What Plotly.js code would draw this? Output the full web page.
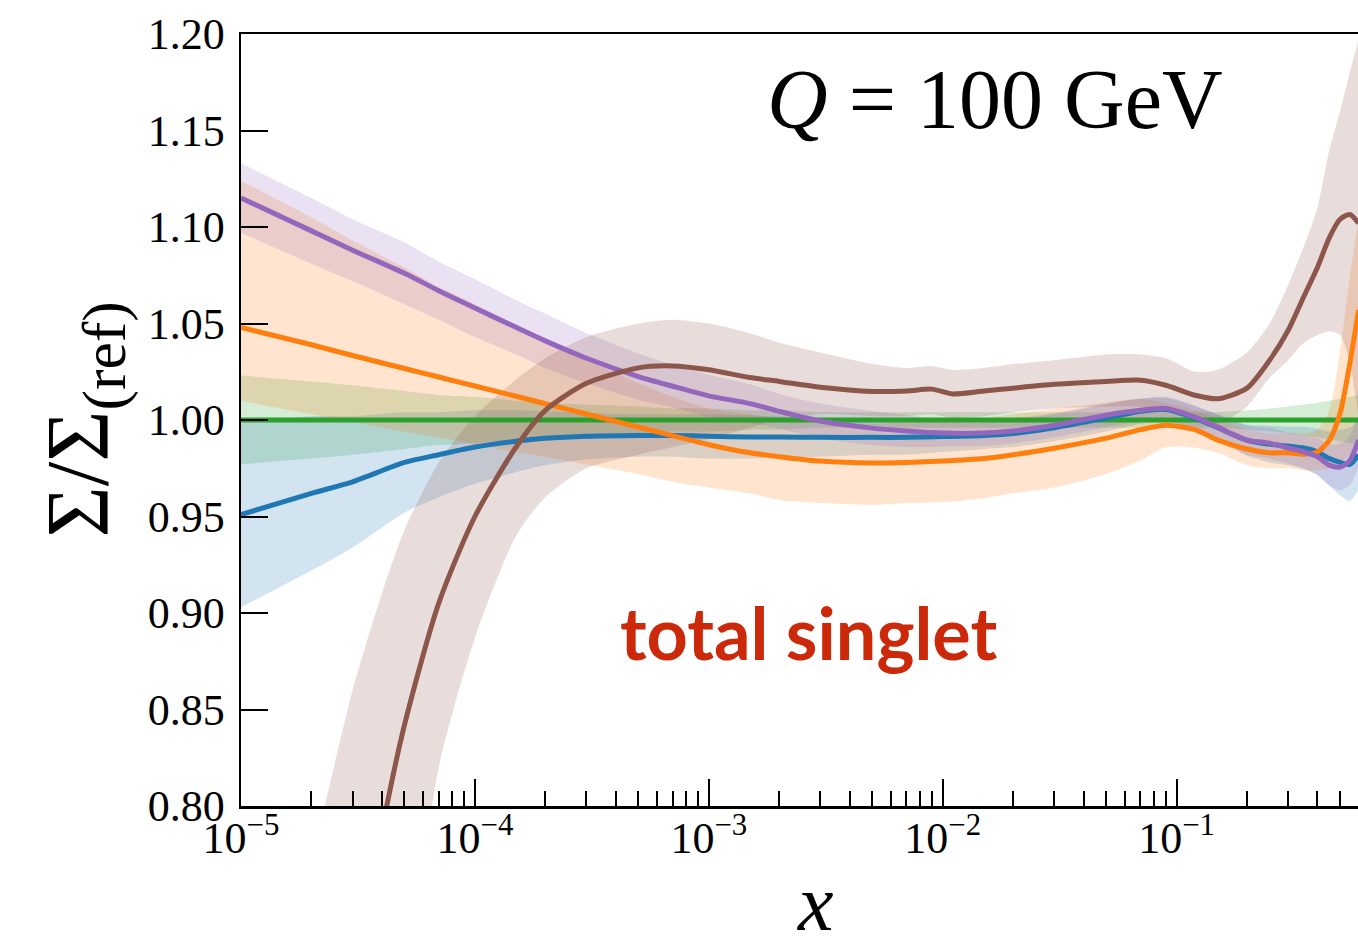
<!DOCTYPE html>
<html>
<head>
<meta charset="utf-8">
<script src="https://cdn.plot.ly/plotly-3.0.1.min.js"></script>
<style>
  html, body { margin: 0; padding: 0; background: #fff; overflow: hidden; }
  #chart { width: 1358px; height: 948px; }
</style>
</head>
<body>
<div id="chart"></div>
<script>
// Momentum fraction grid shared by most sets
const xGrid = [1e-5, 2e-5, 3e-5, 5e-5, 7e-5, 1e-4, 1.5e-4, 2e-4, 3e-4, 5e-4, 7e-4,
  1e-3, 1.5e-3, 2e-3, 3e-3, 5e-3, 7e-3, 1e-2, 1.5e-2, 2e-2, 3e-2, 5e-2, 7e-2,
  0.09, 0.12, 0.15, 0.2, 0.25, 0.3, 0.35, 0.4, 0.45, 0.5, 0.55, 0.6];

// Reference set (green): central ratio and band
const greenMid = [1, 1, 1, 1, 1, 1, 1, 1, 1, 1, 1, 1, 1, 1, 1, 1, 1, 1, 1, 1, 1, 1, 1,
  1, 1, 1, 1, 1, 1, 1, 1, 1, 1, 1, 1];
const greenLo = [0.977, 0.980, 0.982, 0.985, 0.987, 0.988, 0.990, 0.991, 0.992, 0.993, 0.994,
  0.994, 0.995, 0.995, 0.996, 0.996, 0.996, 0.996, 0.996, 0.996, 0.996, 0.996, 0.996,
  0.996, 0.996, 0.996, 0.995, 0.994, 0.993, 0.992, 0.991, 0.990, 0.989, 0.988, 0.987];
const greenHi = [1.023, 1.020, 1.018, 1.015, 1.013, 1.012, 1.010, 1.009, 1.008, 1.007, 1.006,
  1.006, 1.005, 1.005, 1.004, 1.004, 1.004, 1.004, 1.004, 1.004, 1.004, 1.004, 1.004,
  1.004, 1.004, 1.004, 1.005, 1.006, 1.007, 1.008, 1.009, 1.010, 1.011, 1.012, 1.013];

// Blue set
const blueMid = [0.951, 0.962, 0.968, 0.978, 0.982, 0.986, 0.989, 0.9905, 0.9916, 0.992, 0.992,
  0.9916, 0.9912, 0.9912, 0.991, 0.991, 0.991, 0.9914, 0.992, 0.993, 0.996, 1.001, 1.0045,
  1.0055, 1.001, 0.996, 0.9895, 0.9875, 0.9865, 0.9855, 0.9835, 0.980, 0.978, 0.977, 0.982];
const blueLo = [0.903, 0.922, 0.934, 0.952, 0.960, 0.967, 0.973, 0.9765, 0.9796, 0.981, 0.981,
  0.980, 0.980, 0.9806, 0.981, 0.982, 0.982, 0.9834, 0.985, 0.986, 0.989, 0.994, 0.998,
  0.9995, 0.995, 0.989, 0.9815, 0.978, 0.9765, 0.9745, 0.9715, 0.966, 0.961, 0.958, 0.964];
const blueHi = [0.999, 1.002, 1.002, 1.004, 1.004, 1.005, 1.005, 1.0045, 1.0036, 1.003, 1.003,
  1.003, 1.0024, 1.0018, 1.001, 1.000, 1.000, 0.9994, 0.999, 1.000, 1.003, 1.008, 1.011,
  1.0115, 1.007, 1.003, 0.9975, 0.997, 0.9965, 0.9965, 0.9955, 0.994, 0.995, 0.996, 1.000];

// Orange set
const orangeMid = [1.048, 1.039, 1.0334, 1.0267, 1.0223, 1.0176, 1.0123, 1.0084, 1.0031, 0.9963, 0.9919,
  0.9872, 0.983, 0.981, 0.9787, 0.9777, 0.978, 0.9787, 0.980, 0.982, 0.9854, 0.9906, 0.995,
  0.9973, 0.995, 0.9896, 0.985, 0.983, 0.983, 0.9823, 0.9834, 0.9896, 1.0035, 1.029, 1.057];
const orangeLo = [1.010, 1.003, 0.999, 0.994, 0.991, 0.9875, 0.9834, 0.981, 0.977, 0.972, 0.968,
  0.965, 0.962, 0.9585, 0.957, 0.956, 0.957, 0.9575, 0.9595, 0.962, 0.965, 0.972, 0.979,
  0.986, 0.9855, 0.983, 0.9766, 0.975, 0.975, 0.974, 0.974, 0.975, 0.978, 0.982, 0.985];
const orangeHi = [1.124, 1.105, 1.093, 1.079, 1.069, 1.060, 1.049, 1.041, 1.031, 1.019, 1.012,
  1.006, 1.003, 1.001, 0.999, 0.998, 0.999, 0.9997, 1.001, 1.003, 1.006, 1.009, 1.011,
  1.009, 1.005, 1.001, 0.995, 0.993, 0.993, 0.993, 0.995, 1.005, 1.036, 1.074, 1.105];

// Purple set
const purpleMid = [1.115, 1.098, 1.088, 1.076, 1.067, 1.058, 1.048, 1.041, 1.032, 1.0225, 1.0175,
  1.0125, 1.0085, 1.0045, 0.9995, 0.9958, 0.9943, 0.9932, 0.9932, 0.9943, 0.9973, 1.0025, 1.005,
  1.006, 1.0015, 0.9963, 0.9896, 0.988, 0.9855, 0.9835, 0.981, 0.9766, 0.9756, 0.979, 0.9896];
const purpleLo = [1.097, 1.081, 1.072, 1.060, 1.052, 1.043, 1.034, 1.027, 1.019, 1.0105, 1.0065,
  1.0015, 0.9985, 0.9955, 0.9905, 0.987, 0.986, 0.9862, 0.9865, 0.9878, 0.991, 0.9963, 0.999,
  1.000, 0.9955, 0.990, 0.982, 0.980, 0.9775, 0.975, 0.9715, 0.966, 0.9636, 0.966, 0.9756];
const purpleHi = [1.133, 1.115, 1.104, 1.092, 1.082, 1.073, 1.062, 1.055, 1.045, 1.0345, 1.0285,
  1.0235, 1.0185, 1.0135, 1.0085, 1.0046, 1.0026, 1.0002, 0.9999, 1.0008, 1.0036, 1.0087, 1.011,
  1.012, 1.0075, 1.0026, 0.9972, 0.996, 0.9935, 0.992, 0.9905, 0.9872, 0.9876, 0.992, 1.0036];

// Brown set (own grid, with a small step near x = 0.01)
const xBrown = [2e-5, 3e-5, 4e-5, 5e-5, 7e-5, 1e-4, 1.5e-4, 2e-4, 3e-4, 5e-4, 7e-4,
  1e-3, 1.5e-3, 2e-3, 3e-3, 5e-3, 7e-3, 9e-3, 1.1e-2, 1.5e-2, 2e-2, 3e-2, 5e-2, 7e-2,
  0.09, 0.12, 0.15, 0.2, 0.25, 0.3, 0.35, 0.4, 0.45, 0.5, 0.55, 0.6];
const brownMid = [0.55, 0.70, 0.787, 0.842, 0.905, 0.950, 0.986, 1.005, 1.019, 1.027, 1.028,
  1.026, 1.022, 1.020, 1.017, 1.0148, 1.015, 1.016, 1.0135, 1.015, 1.0165, 1.0185, 1.020, 1.0206,
  1.018, 1.0128, 1.011, 1.0165, 1.031, 1.0465, 1.064, 1.079, 1.0945, 1.104, 1.1065, 1.102];
const brownLo = [0.40, 0.55, 0.64, 0.70, 0.82, 0.887, 0.940, 0.960, 0.975, 0.982, 0.986,
  0.990, 0.996, 1.000, 1.003, 1.002, 1.002, 1.003, 1.001, 1.002, 1.004, 1.006, 1.007, 1.007,
  1.005, 1.000, 0.998, 1.007, 1.022, 1.031, 1.040, 1.044, 1.046, 1.044, 1.030, 1.001];
const brownHi = [0.77, 0.86, 0.91, 0.943, 0.978, 1.002, 1.021, 1.032, 1.043, 1.050, 1.052,
  1.050, 1.045, 1.040, 1.035, 1.029, 1.027, 1.028, 1.026, 1.027, 1.029, 1.031, 1.034, 1.034,
  1.032, 1.025, 1.026, 1.035, 1.050, 1.070, 1.090, 1.110, 1.140, 1.160, 1.180, 1.197];

// Axis ticks
const yTicks = [0.80, 0.85, 0.90, 0.95, 1.00, 1.05, 1.10, 1.15, 1.20];
const yTickText = ['0.80', '0.85', '0.90', '0.95', '1.00', '1.05', '1.10', '1.15', '1.20'];
const xTicks = [1e-5, 1e-4, 1e-3, 1e-2, 1e-1];
const xTickText = ['10<sup>−5</sup>', '10<sup>−4</sup>', '10<sup>−3</sup>', '10<sup>−2</sup>', '10<sup>−1</sup>'];

// minor log ticks 2..9 of every decade
const xMinor = [];
for (let d = -5; d <= -1; d++) {
  for (let k = 2; k <= 9; k++) xMinor.push(k * Math.pow(10, d));
}

const sets = [
  { x: xGrid, mid: greenMid, lo: greenLo, hi: greenHi, color: '#2ca02c', fill: 'rgba(44,160,44,0.2)' },
  { x: xGrid, mid: blueMid, lo: blueLo, hi: blueHi, color: '#1f77b4', fill: 'rgba(31,119,180,0.2)' },
  { x: xGrid, mid: orangeMid, lo: orangeLo, hi: orangeHi, color: '#ff7f0e', fill: 'rgba(255,127,14,0.2)' },
  { x: xGrid, mid: purpleMid, lo: purpleLo, hi: purpleHi, color: '#9467bd', fill: 'rgba(148,103,189,0.2)' },
  { x: xBrown, mid: brownMid, lo: brownLo, hi: brownHi, color: '#8c564b', fill: 'rgba(140,86,75,0.2)' }
];

const traces = [];
sets.forEach(s => {
  traces.push({ x: s.x, y: s.lo, type: 'scatter', mode: 'lines', line: { width: 0, shape: 'spline', smoothing: 0.7 },
    hoverinfo: 'skip', showlegend: false });
  traces.push({ x: s.x, y: s.hi, type: 'scatter', mode: 'lines', line: { width: 0, shape: 'spline', smoothing: 0.7 },
    fill: 'tonexty', fillcolor: s.fill, hoverinfo: 'skip', showlegend: false });
});
sets.forEach(s => {
  traces.push({ x: s.x, y: s.mid, type: 'scatter', mode: 'lines',
    line: { color: s.color, width: 5, shape: 'spline', smoothing: 0.7 }, showlegend: false });
});

const serif = 'Liberation Serif, DejaVu Serif, serif';

const layout = {
  width: 1358, height: 948,
  margin: { l: 241, r: 0, t: 34, b: 142 },
  paper_bgcolor: '#fff', plot_bgcolor: '#fff',
  showlegend: false,
  xaxis: {
    type: 'log', range: [-5, -0.2244],
    tickmode: 'array', tickvals: xTicks, ticktext: xTickText,
    ticks: 'inside', ticklen: 27, tickwidth: 2, tickcolor: '#000',
    minor: { tickmode: 'array', tickvals: xMinor, ticks: 'inside', ticklen: 15, tickwidth: 2, tickcolor: '#000', showgrid: false },
    showline: true, linecolor: '#000', linewidth: 2.5, mirror: true,
    showgrid: false, zeroline: false,
    tickfont: { family: serif, size: 44, color: '#000' },
    ticklabelstandoff: -8
  },
  yaxis: {
    range: [0.8, 1.2],
    tickmode: 'array', tickvals: yTicks, ticktext: yTickText,
    ticks: 'inside', ticklen: 27, tickwidth: 2, tickcolor: '#000',
    showline: true, linecolor: '#000', linewidth: 2.5,
    showgrid: false, zeroline: false,
    tickfont: { family: serif, size: 44, color: '#000' },
    ticklabelstandoff: 5
  },
  annotations: [
    { text: '<i>Q</i> = 100 GeV', xref: 'paper', yref: 'paper', x: 0.675, y: 0.915,
      xanchor: 'center', yanchor: 'middle', showarrow: false,
      font: { family: serif, size: 84, color: '#000' } },
    { text: '<b>total singlet</b>', xref: 'paper', yref: 'paper', x: 0.508, y: 0.225,
      xanchor: 'center', yanchor: 'middle', showarrow: false,
      font: { family: 'Lato, Open Sans, sans-serif', size: 72, color: '#cc290a' } },
    { text: 'Σ/Σ<sub>(ref)</sub>', xref: 'paper', yref: 'paper', x: -0.141, y: 0.50,
      xanchor: 'center', yanchor: 'middle', textangle: -90, showarrow: false,
      font: { family: serif, size: 88, color: '#000' } },
    { text: '<i>x</i>', xref: 'paper', yref: 'paper', x: 0.514, y: -0.126,
      xanchor: 'center', yanchor: 'middle', showarrow: false,
      font: { family: serif, size: 80, color: '#000' } }
  ]
};

Plotly.newPlot('chart', traces, layout, { displayModeBar: false, staticPlot: true });
</script>
</body>
</html>
